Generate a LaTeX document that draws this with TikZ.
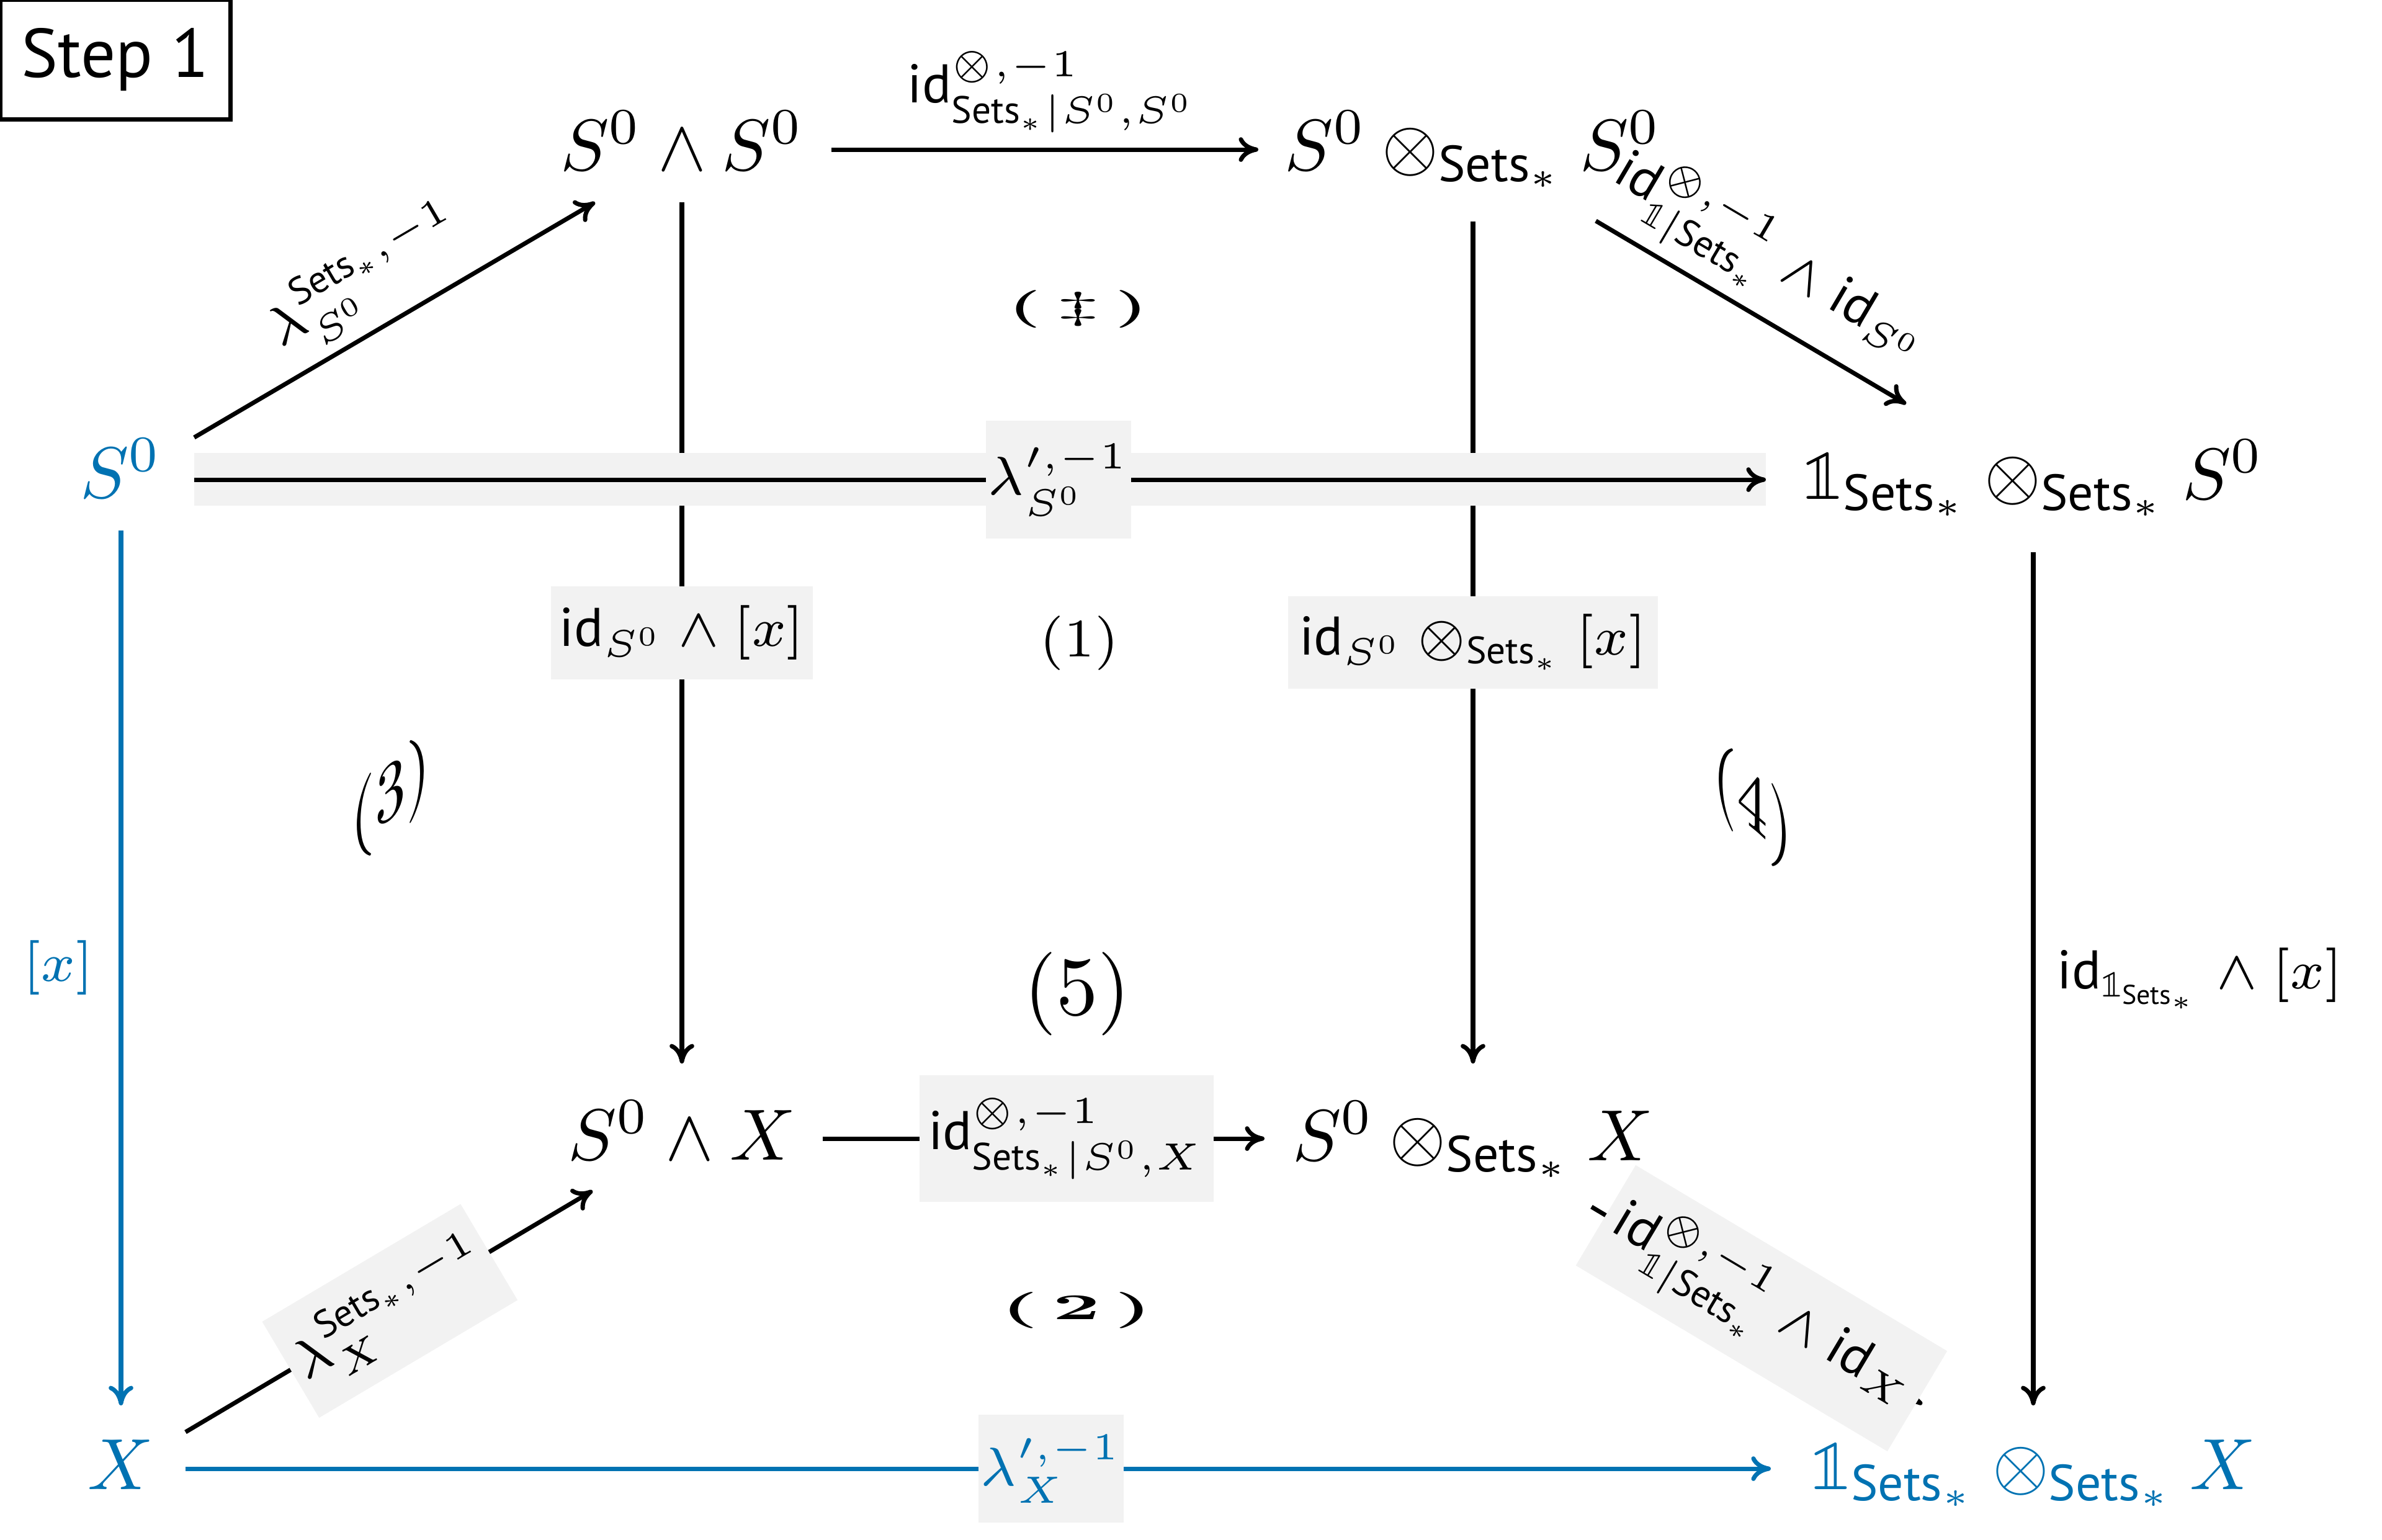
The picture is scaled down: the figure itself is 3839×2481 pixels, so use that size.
\RequirePackage{fix-cm}
\documentclass[tikz,border=0pt]{standalone}
\usepackage{amsmath}
\usepackage{graphicx}
\usepackage{fontspec}
\setsansfont{PT Sans}
\usetikzlibrary{arrows.meta}
\definecolor{cdblue}{RGB}{0,114,178}
\definecolor{lblgray}{RGB}{242,242,242}
\newcommand{\Sets}{\mathsf{Sets}_*}
\newcommand{\idm}{\mathsf{id}}
\IfFontExistsTF{Latin Modern Math}
  {\newfontfamily\lmmfont{Latin Modern Math}\newcommand{\one}{\text{\lmmfont 𝟙}}}
  {\newcommand{\one}{\mathrm{1}\kern-0.42em\mathrm{1}}}
\begin{document}
\begin{tikzpicture}[x=0.003cm,y=-0.003cm,
  obj/.style={anchor=base, inner sep=0pt, font=\fontsize{10}{12}\selectfont},
  arr/.style={line width=0.6pt, -{To[length=2.7pt,width=3.4pt]}},
  lbl/.style={font=\fontsize{7.5}{9}\selectfont, inner sep=2pt},
  desc/.style={lbl, fill=lblgray, inner sep=0pt},
  region/.style={font=\fontsize{7.5}{9}\selectfont, inner sep=0pt}]
\useasboundingbox (0,0) rectangle (3839,2481);

% title
\node[draw, line width=0.6pt, minimum width=31.8pt, minimum height=16.5pt, inner sep=0pt,
      font=\sffamily\fontsize{9.5}{11}\selectfont] (step) at (186,96) {Step 1};

% objects
\node[obj, text=cdblue] (s0L) at (195,802) {$S^0$};
\node[obj] (a) at (1099,274) {$S^0\wedge S^0$};
\node[obj] (b) at (2374,274) {$S^0\otimes_{\Sets} S^0$};
\node[obj] (c) at (3277,804) {$\one_{\Sets}\otimes_{\Sets} S^0$};
\node[obj] (d) at (1099,1869) {$S^0\wedge X$};
\node[obj] (e) at (2374,1870) {$S^0\otimes_{\Sets} X$};
\node[obj, text=cdblue] (xL) at (195,2400) {$X$};
\node[obj, text=cdblue] (f) at (3277,2400) {$\one_{\Sets}\otimes_{\Sets} X$};

% vertical arrows behind the band
\draw[arr] ([shift={(0,52)}]a.base) -- node[desc, pos=0.5, minimum width=36.1pt, minimum height=12.9pt] (l5) {$\idm_{S^0}\wedge[x]$} ([shift={(0,-155)}]d.base);
\draw[arr] ([shift={(0,83)}]b.base) -- node[desc, pos=0.5, minimum width=51pt, minimum height=12.8pt] (l6) {$\idm_{S^0}\otimes_{\Sets}[x]$} ([shift={(0,-156)}]e.base);

% band and long horizontal arrow
\fill[lblgray] ([shift={(118,-72)}]s0L.base) rectangle ([shift={(-431,11)}]c.base);
\draw[arr] ([shift={(118,-29)}]s0L.base) -- node[desc, pos=0.55, minimum width=20pt, minimum height=16.2pt] (l4) {$\lambda^{\prime,-1}_{S^0}$} ([shift={(-431,-31)}]c.base);

% other arrows
\draw[arr] ([shift={(118,-97)}]s0L.base) -- node[lbl, pos=0.49, sloped, above, inner sep=1.5pt] (l1) {$\lambda^{\Sets,-1}_{S^0}$} ([shift={(-140,52)}]a.base);
\draw[arr] ([shift={(241,-33)}]a.base) -- node[lbl, pos=0.516, above] (l2) {$\idm^{\otimes,-1}_{\Sets|S^0,S^0}$} ([shift={(-346,-33)}]b.base);
\draw[arr] ([shift={(198,82)}]b.base) -- node[lbl, pos=0.47, sloped, above, inner sep=1.5pt] (l3) {$\idm^{\otimes,-1}_{\one|\Sets}\wedge\idm_{S^0}$} ([shift={(-205,-153)}]c.base);
\draw[arr] ([shift={(0,86)}]c.base) -- node[lbl, pos=0.5, right, inner sep=3pt] (l7) {$\idm_{\one_{\Sets}}\wedge[x]$} ([shift={(0,-135)}]f.base);
\draw[arr, draw=cdblue] ([shift={(0,53)}]s0L.base) -- node[lbl, pos=0.5, left, inner sep=3.5pt, text=cdblue] (l8) {$[x]$} ([shift={(0,-135)}]xL.base);
\draw[arr] ([shift={(104,-92)}]xL.base) -- node[desc, pos=0.502, sloped, minimum width=31.8pt, minimum height=15.4pt] (l9) {$\lambda^{\Sets,-1}_{X}$} ([shift={(-144,50)}]d.base);
\draw[arr] ([shift={(227,-34)}]d.base) -- node[desc, pos=0.552, minimum width=40.6pt, minimum height=17.4pt] (l10) {$\idm^{\otimes,-1}_{\Sets|S^0,X}$} ([shift={(-336,-35)}]e.base);
\draw[arr] ([shift={(191,75)}]e.base) -- node[desc, pos=0.514, sloped, minimum width=50pt, minimum height=16.1pt] (l11) {$\idm^{\otimes,-1}_{\one|\Sets}\wedge\idm_{X}$} ([shift={(-179,-137)}]f.base);
\draw[arr, draw=cdblue] ([shift={(104,-33)}]xL.base) -- node[desc, pos=0.546, minimum width=20pt, minimum height=14.9pt, text=cdblue] (l12) {$\lambda^{\prime,-1}_{X}$} ([shift={(-423,-33)}]f.base);

% region labels
\begin{scope}[shift={(1738,498)}]
  \node[inner sep=0pt, font=\bfseries\fontsize{10}{12}\selectfont, yscale=0.52] (r0) {(\kern2pt\scalebox{1.4}[1]{$\ddagger$}\kern2pt)};
\end{scope}
\node[region] (r1) at (1740,1037) {$(1)$};
\node[inner sep=0pt, font=\fontsize{11.5}{13}\selectfont] (r5) at (1736,1602) {$(5)$};
\begin{scope}[shift={(630,1286)}]
  \node[region, yscale=1.52, yslant=0.53] (r3) {$(3)$};
\end{scope}
\begin{scope}[shift={(2825,1302)}]
  \node[region, yscale=1.52, yslant=-0.57] (r4) {$(4)$};
\end{scope}
\begin{scope}[shift={(1735,2112)}]
  \node[inner sep=0pt, font=\bfseries\fontsize{10}{12}\selectfont, xscale=1.15, yscale=0.5] (r2) {(\,2\,)};
\end{scope}
\end{tikzpicture}
\end{document}
